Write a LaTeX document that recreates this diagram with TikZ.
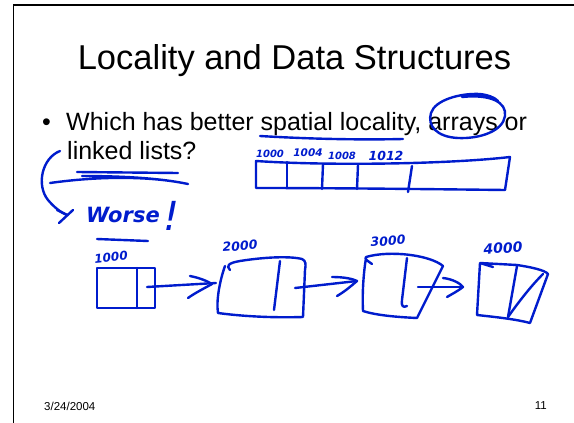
\documentclass[tikz,border=0pt]{standalone}
\usepackage{fontspec}
\setmainfont{Liberation Sans}
\newfontfamily\handfont{DejaVu Sans}
\definecolor{inkblue}{RGB}{0,28,205}
\begin{document}
\begin{tikzpicture}[x=1pt,y=-1pt,
  ink/.style={draw=inkblue,line width=2.4pt,line cap=round,line join=round},
  slidetext/.style={inner sep=0pt,text=black},
  hand/.style={inner sep=0pt,text=inkblue,font=\handfont\bfseries\itshape},
  frameline/.style={draw=black,line width=1.6pt}]
\useasboundingbox (0,0) rectangle (574,423);
\fill[white] (0,0) rectangle (574,423);
% slide frame
\coordinate (fbl) at (13.5,423);
\coordinate (ftl) at (13.5,5);
\coordinate (ftr) at (574,5);
\draw[frameline] (fbl) -- (ftl) -- (ftr);
% printed text
\node[slidetext,anchor=base,font=\fontsize{34.5}{40}\selectfont] (title) at (294.5,70) {Locality and Data Structures};
\node[slidetext,anchor=base west,font=\fontsize{25}{29}\selectfont] (bullet) at (42,130) {•};
\node[slidetext,anchor=base west,font=\fontsize{25}{29}\selectfont] (line1) at (66,130) {Which has better spatial locality, arrays or};
\node[slidetext,anchor=base west,font=\fontsize{25}{29}\selectfont] (line2) at (67,159) {linked lists?};
\node[slidetext,anchor=west,font=\fontsize{11.5}{14}\selectfont] (date) at (44,406) {3/24/2004};
\node[slidetext,anchor=east,font=\fontsize{11.5}{14}\selectfont] (page) at (547,406) {11};
% ink: underline and circle
\draw[ink] (260,136) .. controls (310,139) and (360,140) .. (403,139);
\draw[ink] (462,97) .. controls (490,94) and (507,102) .. (505,116) .. controls (503,131) and (480,139) .. (458,138) .. controls (437,137) and (427,126) .. (431,113) .. controls (435,100) and (460,93) .. (480,94) .. controls (488,95) and (494,97) .. (498,101);
% ink: underline of linked lists and curved arrow
\draw[ink] (77,172) -- (178,173);
\draw[ink] (50,183) .. controls (100,176) and (150,176) .. (188,184) .. controls (160,178) and (120,176) .. (82,176);
\coordinate (cstart) at (60,151);
\coordinate (cend) at (67,215);
\draw[ink] (cstart) .. controls (42,158) and (36,185) .. (48,200) .. controls (54,207) and (60,212) .. (cend);
\draw[ink] (57,210) -- (cend);
\draw[ink] (73,210) -- (59,223);
\node[hand,anchor=base west,font=\handfont\bfseries\itshape\fontsize{21}{24}\selectfont] (worse) at (86,222) {Worse\,\raisebox{-8pt}{\mdseries\fontsize{40}{40}\selectfont !}};
% array
\node[hand,font=\handfont\bfseries\itshape\fontsize{10}{12}\selectfont] (a0) at (270,154) {1000};
\node[hand,font=\handfont\bfseries\itshape\fontsize{10.5}{12}\selectfont] (a1) at (308,153) {1004};
\node[hand,font=\handfont\bfseries\itshape\fontsize{10}{12}\selectfont] (a2) at (342,156) {1008};
\node[hand,font=\handfont\bfseries\itshape\fontsize{12.5}{14}\selectfont] (a3) at (386,156) {1012};
\draw[ink] (256,161) .. controls (330,166) and (450,164) .. (510,157) -- (505,190) .. controls (420,189) and (330,188) .. (256,188) -- cycle;
\draw[ink] (287,162) -- (287,188);
\draw[ink] (323,164) -- (322,189);
\draw[ink] (358,165) -- (357,189);
\draw[ink] (412,166) -- (408,192);
% linked list node 1
\draw[ink] (97,239) -- (148,241);
\node[hand,rotate=6,font=\handfont\bfseries\itshape\fontsize{12}{14}\selectfont] (l1) at (111,257) {1000};
\draw[ink] (97,268) rectangle (155,308);
\draw[ink] (137,268) -- (137,308);
\coordinate (s1) at (147,287);
\coordinate (e1) at (216,283);
\draw[ink] (s1) -- (e1);
\draw[ink] (190,276) .. controls (200,278) and (207,281) .. (212,284) .. controls (203,289) and (195,293) .. (188,298);
% node 2
\node[hand,rotate=4,font=\handfont\bfseries\itshape\fontsize{12.5}{14}\selectfont] (l2) at (240,246) {2000};
\draw[ink] (230,270) .. controls (226,266) and (228,263) .. (240,261) .. controls (265,257) and (290,256) .. (302,259) .. controls (306,261) and (306,264) .. (305,270) -- (303,317) .. controls (270,318) and (240,316) .. (218,313) .. controls (216,300) and (220,280) .. (225,266);
\draw[ink] (280,261) -- (274,310);
\coordinate (s2) at (295,288);
\coordinate (e2) at (357,281);
\draw[ink] (s2) -- (e2);
\draw[ink] (332,277) .. controls (345,277) and (353,279) .. (e2) .. controls (350,287) and (344,292) .. (337,296);
% node 3
\node[hand,rotate=4,font=\handfont\bfseries\itshape\fontsize{12.5}{14}\selectfont] (l3) at (388,241) {3000};
\draw[ink] (372,264) .. controls (368,261) and (364,259) .. (366,257) .. controls (390,250) and (430,255) .. (443,266) -- (417,318) .. controls (395,317) and (375,315) .. (363,311) .. controls (362,290) and (364,270) .. (366,258);
\draw[ink] (407,258) -- (402,300) .. controls (401,306) and (403,308) .. (407,306);
\coordinate (s3) at (418,287);
\coordinate (e3) at (463,287);
\draw[ink] (s3) -- (e3);
\draw[ink] (443,278) .. controls (452,279) and (460,283) .. (e3) .. controls (458,291) and (452,294) .. (447,297);
% node 4
\node[hand,rotate=4,font=\handfont\bfseries\itshape\fontsize{14}{16}\selectfont] (l4) at (503,248) {4000};
\draw[ink] (493,267) -- (480,263) -- (517,265) .. controls (530,267) and (545,270) .. (548,274) -- (530,323) .. controls (515,319) and (495,317) .. (477,315) -- (480,263);
\draw[ink] (517,266) -- (508,317);
\draw[ink] (508,317) .. controls (520,300) and (532,285) .. (543,274);
\end{tikzpicture}
\end{document}
